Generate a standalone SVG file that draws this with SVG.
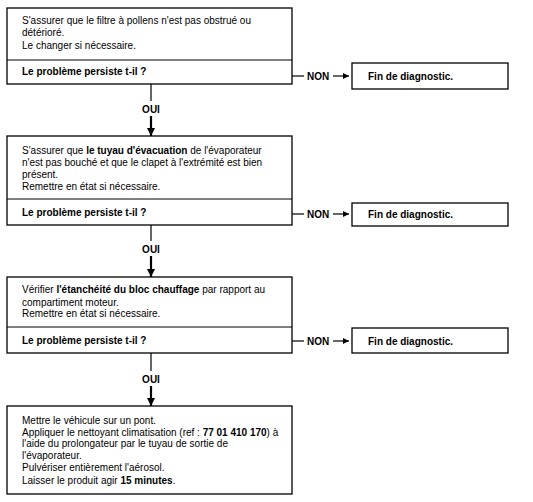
<svg xmlns="http://www.w3.org/2000/svg" width="533" height="502" viewBox="0 0 533 502">
<defs>
<style>
text{font-family:"Liberation Sans",Arial,sans-serif;font-size:10px;fill:#000}
.b{font-weight:bold}
.box{fill:#fff;stroke:#000;stroke-width:1.3}
.ln{stroke:#000;stroke-width:1.2;fill:none}
.sh{stroke:#000;stroke-width:2.2;fill:none}
</style>
<marker id="big" viewBox="0 0 8 8" refX="8" refY="4" markerWidth="8" markerHeight="8" markerUnits="userSpaceOnUse" orient="auto"><path d="M0,0 L8,4 L0,8 z" fill="#000"/></marker>
<marker id="sm" viewBox="0 0 6 6" refX="6" refY="3" markerWidth="6" markerHeight="6" markerUnits="userSpaceOnUse" orient="auto"><path d="M0,0 L6,3 L0,6 z" fill="#000"/></marker>
</defs>
<rect width="533" height="502" fill="#fff"/>
<g id="connectors">
<line class="ln" x1="151" y1="84" x2="151" y2="101"/>
<text class="b" x="151" y="112.5" text-anchor="middle">OUI</text>
<line class="sh" x1="151" y1="116" x2="151" y2="136" marker-end="url(#big)"/>
<line class="ln" x1="151" y1="225" x2="151" y2="241"/>
<text class="b" x="151" y="252.5" text-anchor="middle">OUI</text>
<line class="sh" x1="151" y1="256" x2="151" y2="277" marker-end="url(#big)"/>
<line class="ln" x1="151" y1="353" x2="151" y2="371"/>
<text class="b" x="151" y="382.5" text-anchor="middle">OUI</text>
<line class="sh" x1="151" y1="386" x2="151" y2="406" marker-end="url(#big)"/>
<line class="ln" x1="292" y1="76" x2="304" y2="76"/>
<text class="b" x="307" y="79.5">NON</text>
<line class="ln" x1="333" y1="76" x2="349" y2="76" marker-end="url(#sm)"/>
<line class="ln" x1="292" y1="214" x2="304" y2="214"/>
<text class="b" x="307" y="217.5">NON</text>
<line class="ln" x1="333" y1="214" x2="349" y2="214" marker-end="url(#sm)"/>
<line class="ln" x1="292" y1="341" x2="304" y2="341"/>
<text class="b" x="307" y="344.5">NON</text>
<line class="ln" x1="333" y1="341" x2="349" y2="341" marker-end="url(#sm)"/>
</g>
<g id="node1">
<rect class="box" x="7" y="8" width="285" height="76"/>
<line class="ln" x1="7" y1="60" x2="292" y2="60"/>
<text x="22" y="23.5">S'assurer que le filtre à pollens n'est pas obstrué ou</text>
<text x="22" y="36">détérioré.</text>
<text x="22" y="48.5">Le changer si nécessaire.</text>
<text class="b" x="22" y="75">Le problème persiste t-il ?</text>
</g>
<g id="end1">
<rect class="box" x="352" y="63" width="156" height="26"/>
<text class="b" x="368" y="79.5">Fin de diagnostic.</text>
</g>
<g id="node2">
<rect class="box" x="7" y="136" width="285" height="89"/>
<line class="ln" x1="7" y1="199" x2="292" y2="199"/>
<text x="22" y="153.5">S'assurer que <tspan class="b">le tuyau d'évacuation</tspan> de l'évaporateur</text>
<text x="22" y="165.5">n'est pas bouché et que le clapet à l'extrémité est bien</text>
<text x="22" y="177.5">présent.</text>
<text x="22" y="190">Remettre en état si nécessaire.</text>
<text class="b" x="22" y="215.5">Le problème persiste t-il ?</text>
</g>
<g id="end2">
<rect class="box" x="352" y="203" width="156" height="23"/>
<text class="b" x="368" y="217.5">Fin de diagnostic.</text>
</g>
<g id="node3">
<rect class="box" x="7" y="277" width="285" height="76"/>
<line class="ln" x1="7" y1="327" x2="292" y2="327"/>
<text x="22" y="293">Vérifier <tspan class="b">l'étanchéité du bloc chauffage</tspan> par rapport au</text>
<text x="22" y="305.5">compartiment moteur.</text>
<text x="22" y="317">Remettre en état si nécessaire.</text>
<text class="b" x="22" y="344">Le problème persiste t-il ?</text>
</g>
<g id="end3">
<rect class="box" x="352" y="328" width="156" height="25"/>
<text class="b" x="368" y="344.5">Fin de diagnostic.</text>
</g>
<g id="node4">
<rect class="box" x="7" y="406" width="285" height="88"/>
<text x="22" y="424">Mettre le véhicule sur un pont.</text>
<text x="22" y="435.5">Appliquer le nettoyant climatisation (ref : <tspan class="b">77 01 410 170</tspan>) à</text>
<text x="22" y="447">l'aide du prolongateur par le tuyau de sortie de</text>
<text x="22" y="459">l'évaporateur.</text>
<text x="22" y="471">Pulvériser entièrement l'aérosol.</text>
<text x="22" y="483.5">Laisser le produit agir <tspan class="b">15 minutes</tspan>.</text>
</g>
</svg>
